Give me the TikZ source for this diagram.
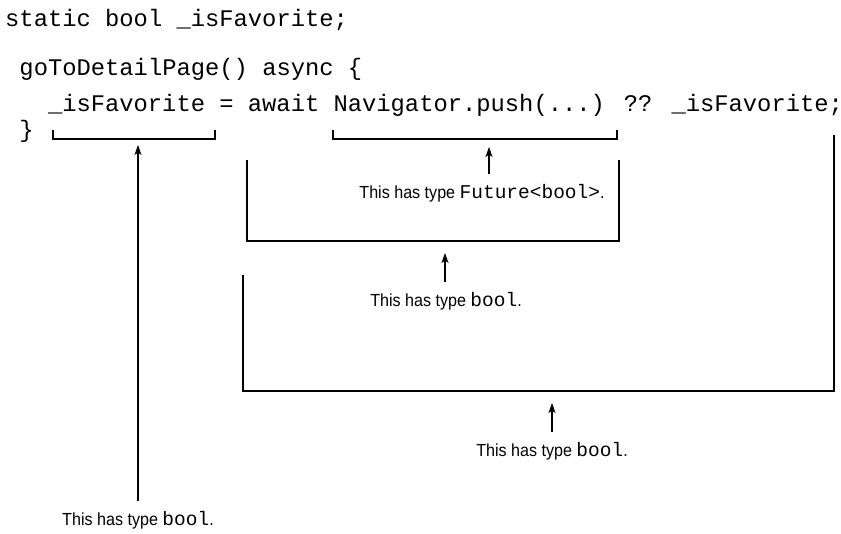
\documentclass[tikz,border=0pt]{standalone}
\usepackage{fontspec}
\usetikzlibrary{arrows.meta}

\newfontfamily\codefont{Liberation Mono}
\newfontfamily\notefont[FakeStretch=0.92]{Liberation Sans}
\newcommand\typename[1]{{\codefont\fontsize{19.5}{20}\selectfont #1}}

\begin{document}
\begin{tikzpicture}[x=1pt, y=-1pt, >={Stealth[length=10pt, width=7pt, inset=2.5pt]},
  code/.style={anchor=base west, inner sep=0pt, font=\codefont\fontsize{23.8}{28}\selectfont},
  note/.style={anchor=north, inner sep=0pt, outer ysep=10pt, font=\notefont\fontsize{17.5}{20}\selectfont},
  bracket/.style={line width=1.1pt},
  pointer/.style={->, line width=1.1pt}]
  \useasboundingbox (0,0) rectangle (841,534);

  % Code lines
  \node[code] (decl)   at (5,27)    {static bool \_isFavorite;};
  \node[code] (head)   at (19.3,76) {goToDetailPage() async \{};
  \node[code] (assign) at (47.8,112) {\_isFavorite = await Navigator.push(...) ?? \_isFavorite;};
  \node[code] (close)  at (19.3,138) {\}};

  % Brackets under the expressions
  \draw[bracket] (53,130) -- (53,139) -- (215,139) -- (215,130);
  \draw[bracket] (333,130) -- (333,139) -- (617,139) -- (617,130);
  \draw[bracket] (247,160) -- (247,241) -- (619,241) -- (619,160);
  \draw[bracket] (243,275) -- (243,391) -- (834,391) -- (834,135);

  % Arrow tips
  \coordinate (tipvar)   at (138,145);
  \coordinate (tippush)  at (489,147);
  \coordinate (tipawait) at (445,253);
  \coordinate (tipall)   at (552,403);

  % Type notes
  \node[note] (notevar)   at (138,501) {This has type \typename{bool}.};
  \node[note] (notepush)  at (482,174) {This has type \typename{Future<bool>}.};
  \node[note] (noteawait) at (446,282) {This has type \typename{bool}.};
  \node[note] (noteall)   at (552,432) {This has type \typename{bool}.};

  % Pointers
  \draw[pointer] (notevar.north)            -- (tipvar);
  \draw[pointer] (tippush |- notepush.north) -- (tippush);
  \draw[pointer] (tipawait |- noteawait.north) -- (tipawait);
  \draw[pointer] (noteall.north)            -- (tipall);
\end{tikzpicture}
\end{document}
